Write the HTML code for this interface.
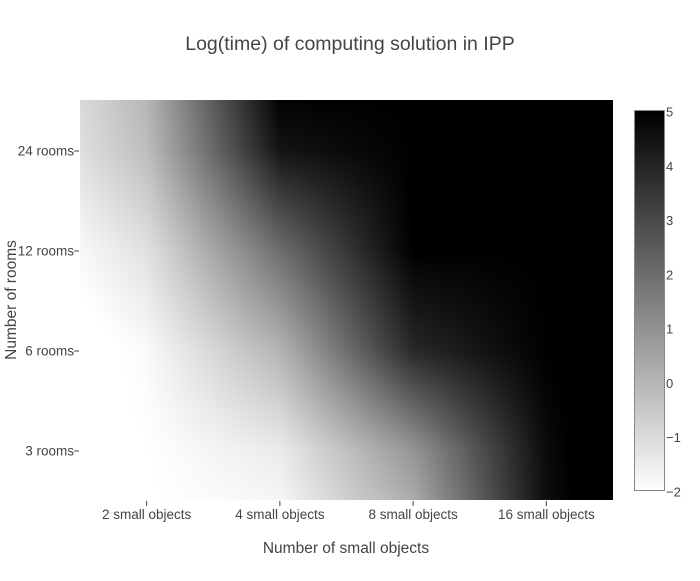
<!DOCTYPE html>
<html><head><meta charset="utf-8"><style>
body{margin:0;background:#fff;font-family:"Liberation Sans",sans-serif;}
#wrap{position:relative;width:700px;height:581px;overflow:hidden;}
svg text{fill:#444;font-family:"Liberation Sans",sans-serif;}
</style></head><body>
<div id="wrap">
<canvas id="hm" width="533" height="400" style="position:absolute;left:80px;top:100px;"></canvas>
<canvas id="cb" width="30" height="380" style="position:absolute;left:634px;top:111px;"></canvas>
<svg id="ov" width="700" height="581" style="position:absolute;left:0;top:0;">
<text x="350" y="50" text-anchor="middle" font-size="19.5">Log(time) of computing solution in IPP</text>
<text x="346" y="553" text-anchor="middle" font-size="15.5">Number of small objects</text>
<text transform="translate(16,300) rotate(-90)" text-anchor="middle" font-size="15.5">Number of rooms</text>
<rect x="634.5" y="110.5" width="30" height="380" fill="none" stroke="#888"/>
<g id="axes"></g>
</svg>
</div>
<script>
const xCats=["2 small objects","4 small objects","8 small objects","16 small objects"];
const yCats=["3 rooms","6 rooms","12 rooms","24 rooms"];
const z3=[-2,-1.45,0.9,4.7];
const z6=[-1.86,0.06,3.9,5];
const z12=[-1.18,2.0,5,5];
const z24=[-0.2,4.45,5,5];
const cbTicks=[-2,-1,0,1,2,3,4,5];
const zmin=-2,zmax=5;
const Z=[z3,z6,z12,z24];
const PX=80,PY=100,PW=533,PH=400;
const cw=PW/xCats.length,ch=PH/yCats.length;
function xPos(i){return PX+cw*(i+0.5);}
function yPos(j){return PY+PH-ch*(j+0.5);}
function grey(v){let t=(v-zmin)/(zmax-zmin);t=Math.max(0,Math.min(1,t));return Math.round(255*(1-t));}
function soft(f,n){ // damped extrapolation beyond outer cell centres
  if(f<0)return f*0.4;
  if(f>n-1)return n-1+(f-(n-1))*0.4;
  return f;
}
const ctx=document.getElementById('hm').getContext('2d');
const img=ctx.createImageData(PW,PH);
for(let py=0;py<PH;py++){
  const fy=soft((PH-py-0.5)/ch-0.5,yCats.length);
  const j0=Math.max(0,Math.min(Math.floor(fy),yCats.length-2)),ty=fy-j0;
  for(let px=0;px<PW;px++){
    const fx=soft((px+0.5)/cw-0.5,xCats.length);
    const i0=Math.max(0,Math.min(Math.floor(fx),xCats.length-2)),tx=fx-i0;
    const v=(Z[j0][i0]*(1-tx)+Z[j0][i0+1]*tx)*(1-ty)+(Z[j0+1][i0]*(1-tx)+Z[j0+1][i0+1]*tx)*ty;
    const g=grey(v),k=(py*PW+px)*4;
    img.data[k]=img.data[k+1]=img.data[k+2]=g;img.data[k+3]=255;
  }
}
ctx.putImageData(img,0,0);
const cctx=document.getElementById('cb').getContext('2d');
const gr=cctx.createLinearGradient(0,0,0,380);
gr.addColorStop(0,'#000');gr.addColorStop(1,'#fff');
cctx.fillStyle=gr;cctx.fillRect(0,0,30,380);
const NS='http://www.w3.org/2000/svg';
const axes=document.getElementById('axes');
function mk(tag,attrs,txt){const e=document.createElementNS(NS,tag);for(const k in attrs)e.setAttribute(k,attrs[k]);if(txt!==undefined)e.textContent=txt;axes.appendChild(e);return e;}
xCats.forEach((c,i)=>{
  const x=xPos(i);
  const t=mk('line',{x1:x,x2:x,y1:501,y2:506,stroke:'#444'});
  
  
  const l=mk('text',{x:x,y:519,'text-anchor':'middle','font-size':13.5},c);
  
  
});
yCats.forEach((c,j)=>{
  const y=yPos(j)+1;
  const t=mk('line',{x1:74,x2:79,y1:y,y2:y,stroke:'#444'});
  
  
  const l=mk('text',{x:74,y:y+4.5,'text-anchor':'end','font-size':13.5},c);
  
  
});
cbTicks.forEach(v=>{
  const y=112+380*(zmax-v)/(zmax-zmin);
  const l=mk('text',{x:666,y:y+4.5,'font-size':13},v<0?'\u2212'+(-v):String(v));
  
  
});
</script>
</body></html>
